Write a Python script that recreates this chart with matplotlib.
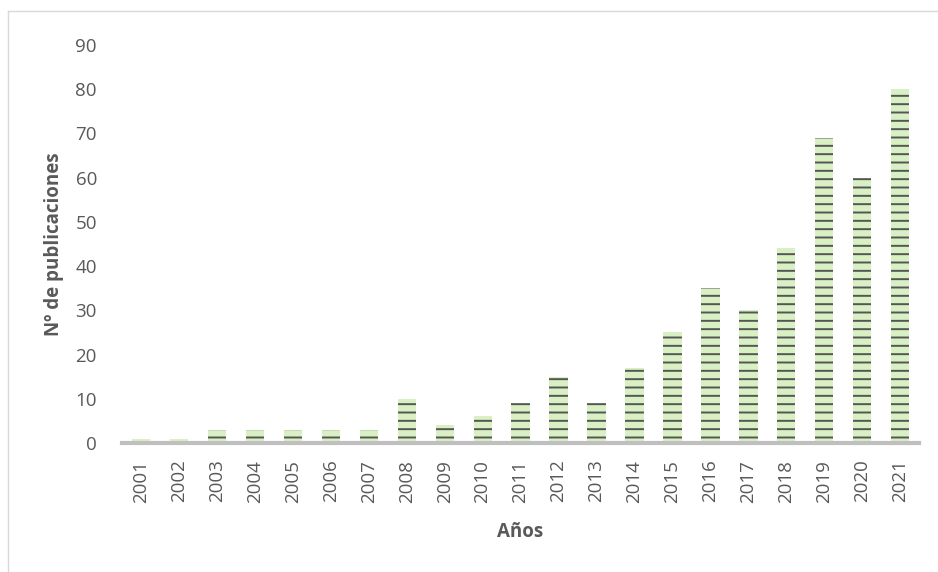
import numpy as np
import matplotlib.pyplot as plt
from matplotlib.lines import Line2D

plt.rcParams['font.family'] = ['Open Sans', 'DejaVu Sans']
plt.rcParams['hatch.linewidth'] = 1.4

# publications per year
years = [str(y) for y in range(2001, 2022)]
pubs = [1, 1, 3, 3, 3, 3, 3, 10, 4, 6, 9, 15, 9, 17, 25, 35, 30, 44, 69, 60, 80]

fig = plt.figure(figsize=(9.38, 5.72), dpi=100)
ax = fig.add_axes([0.130, 0.2255, 0.850, 0.6958])

x = np.arange(len(years))
# hatch lines take the edge colour, so the outline width is set to zero
ax.bar(x, pubs, width=0.48, color='#d9f0c4', edgecolor='#555555', linewidth=0,
       hatch='--', zorder=2)

ax.set_xlim(-0.5, len(years) - 0.5)
ax.set_ylim(0, 90)
ax.set_yticks(range(0, 91, 10))
ax.set_xticks(x)
ax.set_xticklabels(years, rotation=90)

for s in ['top', 'right', 'left']:
    ax.spines[s].set_visible(False)
ax.spines['bottom'].set_color('#bfbfbf')
ax.spines['bottom'].set_linewidth(3)
ax.spines['bottom'].set_zorder(3)

ax.tick_params(axis='y', length=0, pad=18, labelsize=13.5, labelcolor='#595959')
ax.tick_params(axis='x', length=0, pad=12, labelsize=13.5, labelcolor='#595959')

ax.set_ylabel('Nº de publicaciones', fontsize=13.5, fontweight='bold', color='#595959', labelpad=8)
ax.set_xlabel('Años', fontsize=13.5, fontweight='bold', color='#595959', labelpad=14)

# faint frame of the chart area
fig.add_artist(Line2D([8/938, 8/938], [0, 1 - 11/572], transform=fig.transFigure, color='#d9d9d9', lw=1))
fig.add_artist(Line2D([8/938, 1], [1 - 11/572, 1 - 11/572], transform=fig.transFigure, color='#d9d9d9', lw=1))

fig.savefig('out.png', dpi=100)
